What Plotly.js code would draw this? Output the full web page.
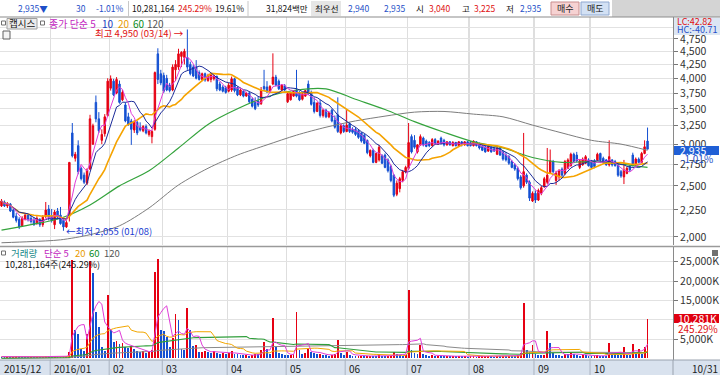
<!DOCTYPE html>
<html><head><meta charset="utf-8">
<script src="https://cdn.plot.ly/plotly-3.0.1.min.js"></script>
<style>html,body{margin:0;padding:0;background:#fff}#chart{width:720px;height:375px}</style>
</head><body><div id="chart"></div>
<script>
// ---------- data ----------
const monthLabels = ['2015/12','2016/01','02','03','04','05','06','07','08','09','10'];
const monthDays   = [17,20,18,22,20,20,21,21,22,19,20];
const lastLabel = '10/31';

const opens = [
2290,2330,2290,2310,2250,2190,2160,2100,2160,2200,
2170,2150,2120,2160,2110,2190,2260,2190,2110,2240,
2200,2150,2090,2200,3150,2820,2980,2700,2620,2530,
2690,3000,3600,3350,3050,3140,3400,3830,3950,3750,
3900,3640,3560,3380,3320,3190,3300,3230,3180,3240,
3130,3100,3200,4450,4080,4050,4000,3880,3800,4150,
4200,4400,4380,4380,4250,4200,4200,4100,3980,4080,
3960,3980,3990,4030,3900,3850,3840,3780,3800,3990,
3840,3720,3780,3700,3750,3650,3600,3620,3580,3860,
3850,3780,3900,4020,3950,3800,3870,3610,3640,3700,
3800,3760,3650,3700,3900,3760,3600,3460,3590,3400,
3480,3380,3480,3330,3410,3150,3250,3170,3280,3200,
3200,3180,3150,3120,3050,2850,2920,2770,2800,2850,
2860,2800,2720,2620,2410,2470,2560,2660,2700,3100,
3050,2900,2990,3080,3040,3020,2980,3060,3000,3080,
3050,2990,3030,2980,3020,2980,3030,2990,3030,3020,
2980,3030,3000,2970,2960,2910,2960,2940,2870,2950,
2900,2860,2840,2780,2740,2700,2600,2500,2620,2540,
2340,2420,2350,2420,2490,2540,2650,2780,2560,2600,
2690,2640,2700,2730,2870,2860,2710,2740,2760,2800,
2790,2790,2800,2880,2820,2800,2740,2800,2780,2740,
2660,2600,2640,2720,2860,2740,2810,2770,2880,3040];
const highs = [
2360,2345,2330,2320,2270,2220,2180,2190,2220,2210,
2200,2180,2190,2170,2200,2330,2300,2260,2250,2270,
2280,2160,2150,2770,3290,2900,3050,2720,2650,2700,
3410,3280,3710,3450,3200,3420,4000,4050,3990,4020,
3960,3800,3600,3440,3350,3330,3320,3300,3260,3270,
3200,3190,4120,4560,4150,4100,4060,3920,4250,4330,
4550,4500,4550,4950,4300,4240,4330,4140,4100,4100,
4080,4080,4060,4050,3940,3880,3870,3920,4030,4010,
3860,3820,3800,3770,3770,3680,3680,3700,3850,4150,
3950,3880,4460,4060,3980,3900,3900,3760,3770,3800,
4150,3780,3760,3800,3960,3790,3680,3600,3640,3500,
3500,3460,3500,3400,3680,3270,3270,3480,3300,3230,
3230,3200,3160,3140,3060,2930,2940,2890,2990,2870,
2880,2820,2740,2630,2560,2600,2680,2730,3290,3130,
3120,3000,3130,3100,3060,3040,3080,3080,3050,3100,
3070,3040,3040,3040,3030,3040,3040,3040,3040,3040,
3050,3040,3020,2990,2980,2990,2970,2960,2970,2960,
2920,2900,2860,2800,2760,2720,2620,3150,2640,2560,
2440,2450,2470,2500,2600,2950,2930,2800,2670,2690,
2710,2800,2820,2890,2890,2900,2810,2830,2860,2820,
2800,2810,2890,2890,2840,2810,3050,2810,2800,2750,
2680,2800,2720,2740,2890,2830,2830,2900,3050,3225];
const lows = [
2280,2280,2270,2230,2170,2130,2070,2090,2150,2140,
2120,2100,2110,2090,2090,2170,2150,2130,2070,2160,
2110,2055,2080,2140,2830,2780,2630,2560,2520,2510,
2680,2990,3300,3150,3000,3100,3380,3790,3700,3730,
3580,3620,3300,3250,2990,3150,3120,3170,3160,3130,
3100,3010,3180,3900,3880,3750,3780,3760,3780,3950,
4150,4200,4250,4150,4050,4020,3980,3960,3950,3940,
3940,3930,3960,3780,3780,3760,3740,3760,3770,3760,
3700,3700,3680,3690,3590,3520,3480,3530,3560,3780,
3750,3750,3880,3860,3800,3780,3780,3590,3630,3690,
3680,3620,3630,3690,3720,3550,3430,3450,3370,3370,
3360,3360,3300,3210,3150,3130,3150,3160,3150,3140,
3110,3070,3020,3000,2870,2830,2760,2760,2780,2750,
2700,2650,2540,2380,2390,2430,2540,2640,2680,2880,
2940,2880,2980,2970,2960,2960,2970,2990,2990,2990,
2970,2980,2980,2970,2970,2970,2970,2980,2970,2970,
2970,2970,2930,2910,2890,2900,2890,2900,2860,2850,
2790,2780,2740,2700,2670,2560,2460,2480,2520,2340,
2330,2320,2340,2400,2480,2520,2640,2640,2510,2560,
2600,2620,2690,2720,2760,2770,2690,2730,2750,2720,
2700,2700,2790,2780,2760,2730,2720,2720,2720,2600,
2590,2520,2630,2660,2720,2730,2760,2760,2870,2935];
const closes = [
2340,2290,2310,2240,2180,2150,2090,2170,2200,2160,
2140,2110,2170,2110,2180,2250,2180,2150,2230,2180,
2120,2090,2130,2770,2850,2870,2660,2580,2540,2680,
3350,3250,3350,3180,3130,3380,3950,3990,3720,3980,
3600,3760,3320,3270,3200,3300,3150,3190,3240,3150,
3180,3170,4100,3980,3920,3780,3800,3790,4200,4250,
4450,4480,4500,4200,4080,4040,4000,3980,4080,3970,
4050,4060,4040,3820,3800,3780,3760,3880,3990,3790,
3720,3800,3700,3750,3610,3540,3500,3560,3800,3820,
3770,3860,4020,3880,3820,3880,3800,3740,3750,3780,
3700,3640,3740,3790,3740,3570,3460,3590,3400,3480,
3380,3440,3320,3230,3170,3250,3170,3260,3170,3160,
3130,3090,3040,3010,2890,2920,2770,2880,2960,2760,
2710,2670,2560,2400,2530,2580,2660,2710,3020,2900,
2960,2990,3100,2990,2970,2980,3060,3010,3040,3010,
2990,3030,2990,3020,2980,3030,2990,3030,2980,2980,
3040,2980,2950,2920,2900,2970,2900,2910,2950,2860,
2810,2800,2760,2710,2690,2580,2480,2660,2540,2370,
2420,2350,2450,2480,2580,2620,2790,2660,2640,2670,
2620,2780,2800,2870,2780,2790,2790,2810,2840,2730,
2710,2720,2870,2800,2770,2740,2840,2740,2730,2620,
2610,2680,2700,2680,2740,2810,2770,2880,2965,2935];
// volume, thousands of shares
const volumes = [
450,380,420,360,400,520,480,350,330,300,
320,280,350,300,380,700,560,450,600,520,
400,480,650,1640,25380,7400,6400,2500,2000,6400,
25200,22000,12000,8000,3000,2000,16300,7250,4200,4600,
3800,3900,3000,2600,3200,2500,2000,1700,1900,1500,
1600,2100,22350,25820,7300,7000,5500,3000,5200,11560,
9840,2500,2100,13000,7250,3200,3400,1600,1700,2000,
1600,1500,1800,1400,1200,1500,1100,1300,1900,1200,
1000,900,800,850,700,900,1100,1000,2070,4200,
2500,1000,10400,2800,1500,1200,900,800,900,1000,
12000,2200,1200,1500,2300,1600,1400,1000,1200,900,
800,700,900,1000,4700,1400,900,1700,800,600,
500,550,600,500,550,700,650,500,1000,600,
550,600,700,1600,1200,800,700,900,17600,2200,
1500,1200,3400,1000,800,700,800,600,700,650,
550,600,500,550,500,600,500,550,450,500,
600,450,500,550,600,650,500,450,600,550,
700,600,700,650,600,900,1300,14200,2070,1640,
3370,1200,900,800,900,7000,3900,1300,900,800,
700,1100,1000,1600,1000,800,700,900,800,600,
500,600,800,700,600,500,3900,1200,1100,900,
800,2800,900,800,3800,1500,2300,1200,2980,10281];
const maSampleIdx = [0,10,20,30,40,50,60,70,80,90,100,110,120,130,140,150,160,170,180,190,200,210,219];
const ma60Read  = [2060,2110,2170,2300,2500,2670,2950,3270,3500,3690,3800,3820,3650,3490,3310,3160,3030,2950,2830,2770,2780,2750,2710];
const ma120Read = [1950,1960,1975,2020,2100,2270,2510,2700,2860,2990,3120,3230,3320,3390,3450,3460,3420,3380,3260,3150,3050,3000,2920];
const priceTicks = [2000,2250,2500,2750,3000,3250,3500,3750,4000,4250,4500,4750,5000];
const volTicks = [5000,10000,15000,20000,25000];

// ---------- helpers ----------
const W = 720, H = 375;
const px = X => X / W, py = Y => 1 - Y / H;
const RED = '#e60012', BLUE = '#1450d2';
const FONT = "'Noto Sans CJK KR', 'Noto Sans', sans-serif";
const idx = closes.map((_, i) => i);
function sma(arr, n, fullDiv) {
  return arr.map((v, i) => {
    let s = 0, c = 0;
    for (let j = Math.max(0, i - n + 1); j <= i; j++) { s += arr[j]; c++; }
    return s / (fullDiv ? n : c);
  });
}
const monthStart = []; let acc = 0;
monthDays.forEach(d => { monthStart.push(acc); acc += d; });
const gridIdx = monthStart.slice(1).map(s => s - 0.5);
const volColors = volumes.map((v, i) => (i > 0 && v > volumes[i - 1]) ? RED : BLUE);
const fmt = v => v.toLocaleString('en-US');

// ---------- traces ----------
const line = (y, color, width, axis, spline) => ({
  type: 'scatter', mode: 'lines', x: axis.x || idx, y, xaxis: 'x', yaxis: axis.y,
  line: {color, width, shape: spline ? 'spline' : 'linear', smoothing: 0.8}, hoverinfo: 'skip'
});
const traces = [
  {type: 'candlestick', x: idx, open: opens, high: highs, low: lows, close: closes,
   xaxis: 'x', yaxis: 'y', whiskerwidth: 0,
   increasing: {line: {color: RED, width: 1}, fillcolor: RED},
   decreasing: {line: {color: BLUE, width: 1}, fillcolor: BLUE}, hoverinfo: 'skip'},
  line(ma120Read, '#7d7d7d', 1, {x: maSampleIdx, y: 'y'}, true),
  line(ma60Read, '#34a33c', 1.2, {x: maSampleIdx, y: 'y'}, true),
  line(sma(closes, 20), '#f5a300', 1.6, {y: 'y'}),
  line(sma(closes, 10), '#1c2c9a', 1, {y: 'y'}),
  line(sma(closes, 5), '#e03cd8', 1, {y: 'y'}),
  {type: 'bar', x: idx, y: volumes, xaxis: 'x', yaxis: 'y2', width: 0.62,
   marker: {color: volColors, line: {width: 0}}, hoverinfo: 'skip'},
  line(sma(volumes, 120, true), '#8a8a8a', 1, {y: 'y2'}),
  line(sma(volumes, 60, true), '#2f9e3a', 1.1, {y: 'y2'}),
  line(sma(volumes, 20), '#f2a600', 1, {y: 'y2'}),
  line(sma(volumes, 5), '#e03cd8', 1, {y: 'y2'})
];

// ---------- shapes ----------
const rect = (x0, y0, x1, y1, fill, lineColor, lw) => ({type: 'rect', xref: 'paper', yref: 'paper',
  x0: px(x0), x1: px(x1), y0: py(y1), y1: py(y0), fillcolor: fill,
  line: {color: lineColor || fill, width: lineColor ? (lw || 1) : 0}, layer: 'above'});
const hline = (x0, x1, Y, color, w) => ({type: 'line', xref: 'paper', yref: 'paper',
  x0: px(x0), x1: px(x1), y0: py(Y), y1: py(Y), line: {color, width: w || 1}, layer: 'above'});
const vline = (X, y0, y1, color, w) => ({type: 'line', xref: 'paper', yref: 'paper',
  x0: px(X), x1: px(X), y0: py(y0), y1: py(y1), line: {color, width: w || 1}, layer: 'above'});

const shapes = [
  rect(0, 0, 720, 17, '#ffffff'),
  rect(612, 0, 720, 17, '#d4d4d4'),
  rect(311, 1, 341, 16, '#e6e6e6'),
  vline(128.5, 1, 16, '#c8c8c8'), vline(248, 1, 16, '#c8c8c8'),
  rect(551, 2, 579, 15, '#f6d2d2', '#c98e8e'),
  rect(581, 2, 609, 15, '#d3e1f4', '#8fa8d0'),
  hline(0, 720, 17, '#8c8c8c', 1.2),
  rect(7, 18.5, 37, 29, '#ececec', '#a0a0a0'),
  rect(1.5, 21, 5.5, 25, '#ffffff', '#707070'),
  rect(40.5, 21, 44.5, 25, '#ffffff', '#707070'),
  rect(3, 31, 10, 39, '#f4f4f4', '#606060'),
  rect(674, 18, 720, 35, '#dce6f3'),
  hline(0, 720, 246.5, '#9a9a9a', 1.5),
  rect(1.5, 251, 5.5, 255, '#ffffff', '#707070'),
  rect(712, 250, 718, 256, '#707070'),
  rect(674, 146, 719, 155, '#1f5fd6'),
  rect(674, 314, 719, 323, '#e00010'),
  rect(0, 360, 720, 375, '#d9e2ee'),
  hline(0, 720, 360, '#9aa2ae', 1),
  vline(673, 360, 375, '#9aa2ae')
];
gridIdx.forEach(g => shapes.push({type: 'line', xref: 'x', yref: 'paper', x0: g, x1: g,
  y0: py(375), y1: py(360), line: {color: '#aab3c0', width: 1}, layer: 'above'}));

// ---------- annotations ----------
const ann = (X, Y, text, color, size, anchor, extra) => Object.assign({xref: 'paper', yref: 'paper',
  x: px(X), y: py(Y), text, showarrow: false, xanchor: anchor || 'left', yanchor: 'middle',
  font: {family: FONT, size: size || 10, color: color || '#111'}}, extra || {});
const HB = '#1e4fc8', HR = '#e01010', HS = 8.5;
const annotations = [
  ann(50, 8.5, '2,935▼', HB, HS, 'right'),
  ann(88, 8.5, '30', HB, HS, 'right'),
  ann(125, 8.5, '-1.01%', HB, HS, 'right'),
  ann(177, 8.5, '10,281,164', '#111', HS, 'right'),
  ann(214, 8.5, '245.29%', HR, HS, 'right'),
  ann(246, 8.5, '19.61%', '#111', HS, 'right'),
  ann(310, 8.5, '31,824백만', '#111', HS, 'right'),
  ann(313, 8.5, '최우선', '#111', HS),
  ann(372, 8.5, '2,940', HB, HS, 'right'),
  ann(408, 8.5, '2,935', HB, HS, 'right'),
  ann(414, 8.5, '시', '#111', HS),
  ann(453, 8.5, '3,040', HR, HS, 'right'),
  ann(460, 8.5, '고', '#111', HS),
  ann(498, 8.5, '3,225', HR, HS, 'right'),
  ann(504, 8.5, '저', '#111', HS),
  ann(544, 8.5, '2,935', HB, HS, 'right'),
  ann(565, 8.5, '매수', '#222', 9, 'center'),
  ann(595, 8.5, '매도', '#222', 9, 'center'),
  ann(22, 23.5, '캡시스', '#111', 9.5, 'center'),
  ann(47, 23.5, '종가 단순 5', '#c21fc0', 10),
  ann(100, 23.5, '10', '#2040c0', 10),
  ann(116, 23.5, '20', '#e89a00', 10),
  ann(131, 23.5, '60', '#0a8a1a', 10),
  ann(145, 23.5, '120', '#555555', 10),
  ann(186, 33, '최고 4,950 (03/14) →', '#e01010', 9.5, 'right'),
  ann(64, 231, '←최저 2,055 (01/08)', '#1a3cd0', 9.5),
  ann(675, 21.5, 'LC:42.82', '#e01010', 9),
  ann(675, 30, 'HC:-40.71', '#1e4fc8', 9),
  ann(678, 150.5, '2,935', '#ffffff', 10.5),
  ann(679, 159, '-1.01%', '#1e4fc8', 10),
  ann(676, 318.5, '10,281K', '#ffffff', 10.5),
  ann(676, 328, '245.29%', '#e01010', 10),
  ann(9, 253, '거래량', '#1a8a8a', 9.5),
  ann(42, 253, '단순 5', '#c21fc0', 9.5),
  ann(73, 253, '20', '#e89a00', 9.5),
  ann(87, 253, '60', '#0a8a1a', 9.5),
  ann(102, 253, '120', '#555555', 9.5),
  ann(3, 264, '10,281,164주(245.29%)', '#111', 9),
  ann(690, 368, lastLabel, '#222', 10)
];
monthLabels.forEach((lab, i) => {
  const xi = i === 0 ? -0.5 : gridIdx[i - 1];
  annotations.push({xref: 'x', yref: 'paper', x: xi, y: py(368), xshift: 2, text: lab,
    showarrow: false, xanchor: 'left', yanchor: 'middle', font: {family: FONT, size: 10, color: '#222'}});
});

// ---------- layout ----------
const layout = {
  width: W, height: H, margin: {l: 0, r: 0, t: 0, b: 0},
  paper_bgcolor: '#ffffff', plot_bgcolor: '#ffffff', showlegend: false,
  font: {family: FONT, size: 10, color: '#333'},
  bargap: 0,
  xaxis: {domain: [0, 673 / W], range: [-0.51, 227.63], anchor: 'y2',
    tickvals: gridIdx, showticklabels: false, ticks: '', showgrid: true,
    gridcolor: '#dedede', gridwidth: 1.2, zeroline: false, showline: false,
    rangeslider: {visible: false}, fixedrange: true},
  yaxis: {domain: [py(245), py(17)], type: 'log', range: [Math.log10(1931), Math.log10(5227)],
    side: 'right', anchor: 'x', tickvals: priceTicks,
    ticktext: priceTicks.map(v => v === 5000 ? '' : fmt(v)),
    ticks: 'outside', ticklen: 4, tickcolor: '#777', showgrid: true, gridcolor: '#e2e2e2',
    zeroline: false, showline: true, linecolor: '#8a8a8a', linewidth: 1,
    tickfont: {family: FONT, size: 10.5, color: '#333'}, fixedrange: true},
  yaxis2: {domain: [py(360), py(247)], range: [-440, 28830], side: 'right', anchor: 'x',
    tickvals: volTicks, ticktext: volTicks.map(v => v === 10000 ? '' : fmt(v) + 'K'),
    ticks: 'outside', ticklen: 4, tickcolor: '#777', showgrid: true, gridcolor: '#e2e2e2',
    zeroline: false, showline: true, linecolor: '#8a8a8a', linewidth: 1,
    tickfont: {family: FONT, size: 10.5, color: '#333'}, fixedrange: true},
  shapes, annotations
};
Plotly.newPlot('chart', traces, layout, {staticPlot: true, displayModeBar: false});
</script>
</body></html>
